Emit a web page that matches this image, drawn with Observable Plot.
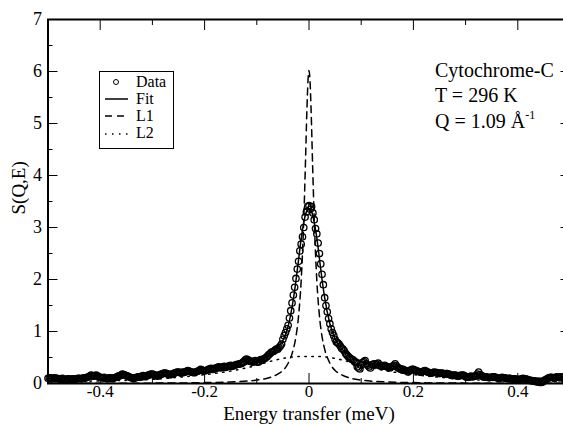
<!DOCTYPE html>
<html><head><meta charset="utf-8">
<script src="https://cdn.jsdelivr.net/npm/d3@7"></script>
<script src="https://cdn.jsdelivr.net/npm/@observablehq/plot@0.6"></script>
<style>
body{margin:0;background:#fff;}
#chart{width:563px;height:424px;overflow:hidden;}
#chart svg text, #chart svg tspan{font-family:"Liberation Serif","DejaVu Serif",serif !important;}
</style>
</head><body><div id="chart"></div>
<script>
// Energy transfer (meV) of measured points, group A
const dataE = [
-0.500,-0.495,-0.490,-0.485,-0.480,-0.475,-0.470,-0.465,-0.460,-0.455,
-0.450,-0.445,-0.440,-0.435,-0.430,-0.425,-0.420,-0.415,-0.410,-0.405,
-0.400,-0.395,-0.390,-0.385,-0.380,-0.375,-0.370,-0.365,-0.360,-0.355,
-0.350,-0.345,-0.340,-0.335,-0.330,-0.325,-0.320,-0.315,-0.310,-0.305,
-0.300,-0.295,-0.290,-0.285,-0.280,-0.275,-0.270,-0.265,-0.260,-0.255,
-0.250,-0.245,-0.240,-0.235,-0.230,-0.225,-0.220,-0.215,-0.210,-0.205,
-0.200,-0.195,-0.190,-0.185,-0.180,-0.175,-0.170,-0.165,-0.160,-0.155,
-0.150,-0.145,-0.140,-0.135,-0.130,-0.125,-0.120,-0.115,-0.110,-0.105,
-0.100,-0.095,-0.090,-0.085,-0.080,-0.075,-0.070,-0.065,-0.060,-0.055,
-0.050,-0.045,-0.040,-0.035,-0.030,-0.025,-0.020,-0.015,-0.010,-0.005,
0.000,0.005,0.010,0.015,0.020,0.025,0.030,0.035,0.040,0.045,
0.050,0.055,0.060,0.065,0.070,0.075,0.080,0.085,0.090,0.095,
0.100,0.105,0.110,0.115,0.120,0.125,0.130,0.135,0.140,0.145,
0.150,0.155,0.160,0.165,0.170,0.175,0.180,0.185,0.190,0.195,
0.200,0.205,0.210,0.215,0.220,0.225,0.230,0.235,0.240,0.245,
0.250,0.255,0.260,0.265,0.270,0.275,0.280,0.285,0.290,0.295,
0.300,0.305,0.310,0.315,0.320,0.325,0.330,0.335,0.340,0.345,
0.350,0.355,0.360,0.365,0.370,0.375,0.380,0.385,0.390,0.395,
0.400,0.405,0.410,0.415,0.420,0.425,0.430,0.435,0.440,0.445,
0.450,0.455,0.460,0.465,0.470,0.475,0.480,0.485];
// S(Q,E), group A
const dataS = [
0.10,0.11,0.10,0.10,0.09,0.09,0.08,0.08,0.09,0.08,
0.08,0.09,0.10,0.09,0.10,0.12,0.14,0.15,0.15,0.14,
0.12,0.11,0.10,0.10,0.11,0.10,0.12,0.14,0.16,0.17,
0.15,0.13,0.11,0.10,0.12,0.13,0.14,0.13,0.15,0.17,
0.18,0.16,0.14,0.17,0.19,0.20,0.18,0.17,0.19,0.21,
0.22,0.20,0.21,0.23,0.24,0.22,0.21,0.23,0.25,0.26,
0.24,0.26,0.28,0.27,0.29,0.31,0.30,0.32,0.31,0.33,
0.35,0.34,0.36,0.37,0.38,0.42,0.47,0.44,0.42,0.43,
0.42,0.43,0.45,0.48,0.52,0.57,0.61,0.64,0.66,0.72,
0.85,0.98,1.12,1.40,1.70,2.02,2.35,2.68,3.00,3.30,
3.42,3.40,3.15,2.88,2.50,2.10,1.65,1.38,1.15,0.98,
0.85,0.78,0.72,0.66,0.58,0.52,0.48,0.45,0.40,0.30,
0.35,0.42,0.38,0.32,0.36,0.38,0.37,0.34,0.33,0.35,
0.32,0.30,0.33,0.38,0.31,0.28,0.27,0.25,0.22,0.26,
0.27,0.25,0.23,0.22,0.24,0.23,0.21,0.20,0.22,0.21,
0.19,0.20,0.18,0.19,0.17,0.15,0.16,0.14,0.15,0.16,
0.13,0.12,0.14,0.13,0.15,0.22,0.15,0.12,0.13,0.11,
0.12,0.13,0.11,0.10,0.12,0.11,0.09,0.10,0.08,0.09,
0.07,0.08,0.10,0.09,0.07,0.06,0.05,0.04,0.03,0.02,
0.05,0.08,0.11,0.12,0.10,0.13,0.11,0.12];
// Energy transfer (meV), group B
const dataE2 = [
-0.4975,-0.4925,-0.4875,-0.4825,-0.4775,-0.4725,-0.4675,-0.4625,-0.4575,-0.4525,
-0.4475,-0.4425,-0.4375,-0.4325,-0.4275,-0.4225,-0.4175,-0.4125,-0.4075,-0.4025,
-0.3975,-0.3925,-0.3875,-0.3825,-0.3775,-0.3725,-0.3675,-0.3625,-0.3575,-0.3525,
-0.3475,-0.3425,-0.3375,-0.3325,-0.3275,-0.3225,-0.3175,-0.3125,-0.3075,-0.3025,
-0.2975,-0.2925,-0.2875,-0.2825,-0.2775,-0.2725,-0.2675,-0.2625,-0.2575,-0.2525,
-0.2475,-0.2425,-0.2375,-0.2325,-0.2275,-0.2225,-0.2175,-0.2125,-0.2075,-0.2025,
-0.1975,-0.1925,-0.1875,-0.1825,-0.1775,-0.1725,-0.1675,-0.1625,-0.1575,-0.1525,
-0.1475,-0.1425,-0.1375,-0.1325,-0.1275,-0.1225,-0.1175,-0.1125,-0.1075,-0.1025,
-0.0975,-0.0925,-0.0875,-0.0825,-0.0775,-0.0725,-0.0675,-0.0625,-0.0575,-0.0525,
-0.0475,-0.0425,-0.0375,-0.0325,-0.0275,-0.0225,-0.0175,-0.0125,-0.0075,-0.0025,
0.0025,0.0075,0.0125,0.0175,0.0225,0.0275,0.0325,0.0375,0.0425,0.0475,
0.0525,0.0575,0.0625,0.0675,0.0725,0.0775,0.0825,0.0875,0.0925,0.0975,
0.1025,0.1075,0.1125,0.1175,0.1225,0.1275,0.1325,0.1375,0.1425,0.1475,
0.1525,0.1575,0.1625,0.1675,0.1725,0.1775,0.1825,0.1875,0.1925,0.1975,
0.2025,0.2075,0.2125,0.2175,0.2225,0.2275,0.2325,0.2375,0.2425,0.2475,
0.2525,0.2575,0.2625,0.2675,0.2725,0.2775,0.2825,0.2875,0.2925,0.2975,
0.3025,0.3075,0.3125,0.3175,0.3225,0.3275,0.3325,0.3375,0.3425,0.3475,
0.3525,0.3575,0.3625,0.3675,0.3725,0.3775,0.3825,0.3875,0.3925,0.3975,
0.4025,0.4075,0.4125,0.4175,0.4225,0.4275,0.4325,0.4375,0.4425,0.4475,
0.4525,0.4575,0.4625,0.4675,0.4725,0.4775,0.4825,0.4875];
// S(Q,E), group B
const dataS2 = [
0.11,0.09,0.11,0.10,0.08,0.10,0.07,0.09,0.08,0.09,
0.09,0.10,0.09,0.11,0.11,0.13,0.16,0.14,0.16,0.13,
0.11,0.12,0.09,0.11,0.10,0.11,0.13,0.15,0.18,0.16,
0.14,0.12,0.10,0.11,0.13,0.12,0.15,0.14,0.16,0.18,
0.17,0.15,0.16,0.18,0.20,0.19,0.17,0.18,0.20,0.22,
0.21,0.22,0.22,0.25,0.23,0.21,0.22,0.24,0.27,0.25,
0.25,0.27,0.29,0.28,0.30,0.32,0.31,0.33,0.32,0.34,
0.33,0.35,0.37,0.38,0.40,0.45,0.46,0.43,0.41,0.44,
0.41,0.46,0.47,0.50,0.55,0.60,0.62,0.66,0.69,0.76,
0.92,1.05,1.26,1.55,1.85,2.20,2.55,2.82,3.20,3.40,
3.35,3.28,2.98,2.70,2.30,1.90,1.50,1.25,1.05,0.92,
0.80,0.76,0.68,0.63,0.55,0.50,0.46,0.42,0.32,0.28,
0.40,0.44,0.35,0.30,0.37,0.36,0.39,0.35,0.34,0.33,
0.31,0.32,0.35,0.34,0.29,0.27,0.26,0.24,0.25,0.27,
0.26,0.24,0.22,0.23,0.25,0.22,0.20,0.21,0.21,0.20,
0.20,0.19,0.19,0.18,0.16,0.16,0.15,0.15,0.16,0.15,
0.12,0.13,0.13,0.14,0.18,0.17,0.14,0.13,0.12,0.12,
0.13,0.12,0.10,0.11,0.11,0.10,0.10,0.09,0.09,0.08,
0.08,0.09,0.09,0.08,0.06,0.05,0.04,0.03,0.02,0.03,
0.07,0.10,0.12,0.11,0.12,0.12,0.13,0.11];

// Fit curve
const fitE = [-0.5,-0.45,-0.4,-0.35,-0.3,-0.25,-0.2,-0.15,-0.12,-0.1,
  -0.08,-0.07,-0.06,-0.05,-0.04,-0.03,-0.025,-0.02,-0.015,-0.01,
  -0.005,0,0.005,0.01,0.015,0.02,0.025,0.03,0.04,0.05,
  0.06,0.07,0.08,0.1,0.12,0.15,0.2,0.25,0.3,0.35,0.4,0.45,0.5];
const fitS = [0.09,0.10,0.11,0.12,0.14,0.17,0.22,0.30,0.37,0.43,
  0.52,0.59,0.68,0.83,1.10,1.62,1.98,2.38,2.78,3.10,
  3.30,3.36,3.30,3.10,2.80,2.40,2.00,1.65,1.15,0.86,
  0.70,0.60,0.53,0.43,0.37,0.30,0.22,0.17,0.14,0.12,0.11,0.10,0.09];

// L1 (narrow Lorentzian)
const l1E = [-0.5,-0.3,-0.2,-0.15,-0.1,-0.08,-0.06,-0.05,-0.04,-0.03,-0.025,-0.02,-0.015,-0.01,-0.007,-0.004,-0.002,
  0,0.002,0.004,0.007,0.01,0.015,0.02,0.025,0.03,0.04,0.05,0.06,0.08,0.1,0.15,0.2,0.3,0.5];
const l1S = [0.003,0.007,0.017,0.029,0.066,0.10,0.18,0.25,0.39,0.66,0.90,1.30,1.98,3.16,4.17,5.26,5.81,
  6.02,5.81,5.26,4.17,3.16,1.98,1.30,0.90,0.66,0.39,0.25,0.18,0.10,0.066,0.029,0.017,0.007,0.003];

// L2 (broad Lorentzian)
const l2E = [-0.5,-0.4,-0.3,-0.25,-0.2,-0.15,-0.12,-0.1,-0.08,-0.06,-0.04,-0.02,0,
  0.02,0.04,0.06,0.08,0.1,0.12,0.15,0.2,0.25,0.3,0.4,0.5];
const l2S = [0.03,0.05,0.08,0.12,0.17,0.24,0.30,0.35,0.41,0.46,0.50,0.52,0.52,
  0.52,0.50,0.46,0.41,0.35,0.30,0.24,0.17,0.12,0.08,0.05,0.03];

const xMajor = [-0.4,-0.2,0,0.2,0.4];
const xTickLabels = ["-0.4","-0.2","0","0.2","0.4"];
const xMinor = [-0.5,-0.3,-0.1,0.1,0.3,0.5];
const yMajor = [0,1,2,3,4,5,6,7];
const yTickLabels = ["0","1","2","3","4","5","6","7"];
const yMinor = [0.5,1.5,2.5,3.5,4.5,5.5,6.5];

const legendLabels = ["Data","Fit","L1","L2"];
const noteLines = ["Cytochrome-C","T = 296 K","Q = 1.09 Å"];
const xLabel = "Energy transfer (meV)";
const yLabel = "S(Q,E)";

const pts = dataE.map((e,i)=>({e, s:dataS[i]})).concat(dataE2.map((e,i)=>({e, s:dataS2[i]})));
const fit = fitE.map((e,i)=>({e, s:fitS[i]}));
const l1 = l1E.map((e,i)=>({e, s:l1S[i]}));
const l2 = l2E.map((e,i)=>({e, s:l2S[i]}));

const FONT = "Liberation Serif, DejaVu Serif, serif";

const plot = Plot.plot({
  width:563, height:424,
  marginLeft:47.5, marginRight:-6.5, marginTop:19, marginBottom:41,
  style:{fontFamily:FONT, background:"#fff", color:"#000", overflow:"hidden"},
  x:{domain:[-0.5,0.5]},
  y:{domain:[0,7]},
  marks:[
    Plot.axisX({anchor:"bottom", ticks:xMajor, tickSize:-10, fill:"none", strokeWidth:1}),
    Plot.axisX({anchor:"bottom", ticks:xMinor, tickSize:-5, fill:"none", strokeWidth:1}),
    Plot.axisX({anchor:"top", ticks:xMajor, tickSize:-10, fill:"none", strokeWidth:1}),
    Plot.axisX({anchor:"top", ticks:xMinor, tickSize:-5, fill:"none", strokeWidth:1}),
    Plot.axisY({anchor:"left", ticks:yMajor, tickSize:-10, fill:"none", strokeWidth:1}),
    Plot.axisY({anchor:"left", ticks:yMinor, tickSize:-5, fill:"none", strokeWidth:1}),
    Plot.axisY({anchor:"right", ticks:yMajor, tickSize:-10, fill:"none", strokeWidth:1}),
    Plot.axisY({anchor:"right", ticks:yMinor, tickSize:-5, fill:"none", strokeWidth:1}),
    Plot.axisX({anchor:"bottom", ticks:xMajor, tickSize:0, tickPadding:1, label:null, fontSize:17,
      tickFormat:d=>xTickLabels[xMajor.indexOf(d)]}),
    Plot.axisY({anchor:"left", ticks:yMajor, tickSize:0, tickPadding:6, label:null, fontSize:18,
      tickFormat:d=>yTickLabels[yMajor.indexOf(d)]}),
    Plot.line(l2, {x:"e", y:"s", stroke:"#000", strokeWidth:1.5, strokeDasharray:"1.5,5.5", curve:"monotone-x"}),
    Plot.line(l1, {x:"e", y:"s", stroke:"#000", strokeWidth:1.5, strokeDasharray:"7,5", curve:"monotone-x"}),
    Plot.line(fit, {x:"e", y:"s", stroke:"#000", strokeWidth:1.5, curve:"monotone-x"}),
    Plot.dot(pts, {x:"e", y:"s", r:3.2, stroke:"#000", fill:"none", strokeWidth:1.3}),
    Plot.frame({stroke:"#000", strokeWidth:2}),
    Plot.text([xLabel], {text:d=>d, frameAnchor:"bottom", dy:36, fontSize:19}),
    Plot.text([yLabel], {text:d=>d, frameAnchor:"left", dx:-29, dy:13, rotate:-90, fontSize:19})
  ]
});
document.getElementById("chart").appendChild(plot);

// legend & annotation
const svg = d3.select(plot);
const lg = svg.append("g").attr("font-family", FONT).attr("font-size", 16).attr("text-anchor","start");
lg.append("rect").attr("x",99.5).attr("y",71.5).attr("width",74).attr("height",77)
  .attr("fill","#fff").attr("stroke","#000").attr("stroke-width",1);
const rowY = [87, 104, 121, 138];
legendLabels.forEach((t,i)=>{
  lg.append("text").attr("x",136).attr("y",rowY[i]).text(t);
});
lg.append("circle").attr("cx",116).attr("cy",rowY[0]-5).attr("r",2.5).attr("fill","none").attr("stroke","#000");
lg.append("line").attr("x1",105).attr("x2",128).attr("y1",rowY[1]-5).attr("y2",rowY[1]-5).attr("stroke","#000").attr("stroke-width",1.5);
lg.append("line").attr("x1",105).attr("x2",128).attr("y1",rowY[2]-5).attr("y2",rowY[2]-5).attr("stroke","#000").attr("stroke-width",1.5).attr("stroke-dasharray","7,5");
lg.append("line").attr("x1",105).attr("x2",128).attr("y1",rowY[3]-4).attr("y2",rowY[3]-4).attr("stroke","#000").attr("stroke-width",1.5).attr("stroke-dasharray","1.5,5.5");

const nt = svg.append("g").attr("font-family", FONT).attr("font-size", 20).attr("text-anchor","start");
nt.append("text").attr("x",435).attr("y",77).text(noteLines[0]);
nt.append("text").attr("x",435).attr("y",102).text(noteLines[1]);
const q = nt.append("text").attr("x",435).attr("y",128).text(noteLines[2]);
q.append("tspan").attr("dy",-9).attr("font-size",12).text("-1");
</script>
</body></html>
